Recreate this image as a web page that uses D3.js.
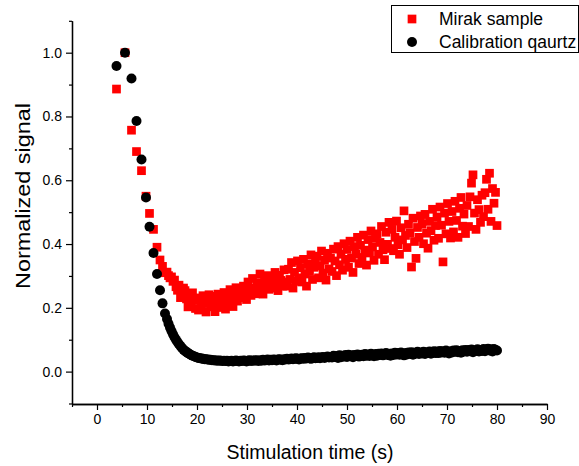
<!DOCTYPE html>
<html><head><meta charset="utf-8">
<script src="https://cdn.jsdelivr.net/npm/d3@7"></script>
<style>
html,body{margin:0;padding:0;background:#fff;}
svg{display:block;font-family:"Liberation Sans",Arial,Helvetica,sans-serif;}
</style></head>
<body><svg id="chart" width="579" height="466"></svg>
<script>
// Stimulation times (s)
const times = [
  3.9, 5.6, 6.9, 7.9, 8.9, 9.8, 10.5, 11.3, 12.0, 12.6, 13.1, 13.6,
  14.0, 14.3, 14.6, 14.9, 15.2, 15.5, 15.8, 16.1, 16.4, 16.7,
  17.0, 17.3, 17.6, 17.9, 18.2, 18.5, 18.8, 19.1, 19.4, 19.7,
  20.0, 20.3, 20.6, 20.9, 21.2, 21.5, 21.8, 22.1, 22.4, 22.7,
  23.0, 23.3, 23.6, 23.9, 24.2, 24.5, 24.8, 25.1, 25.4, 25.7,
  26.0, 26.3, 26.6, 26.9, 27.2, 27.5, 27.8, 28.1, 28.4, 28.7,
  29.0, 29.3, 29.6, 29.9, 30.2, 30.5, 30.8, 31.1, 31.4, 31.7,
  32.0, 32.3, 32.6, 32.9, 33.2, 33.5, 33.8, 34.1, 34.4, 34.7,
  35.0, 35.3, 35.6, 35.9, 36.2, 36.5, 36.8, 37.1, 37.4, 37.7,
  38.0, 38.3, 38.6, 38.9, 39.2, 39.5, 39.8, 40.1, 40.4, 40.7,
  41.0, 41.3, 41.6, 41.9, 42.2, 42.5, 42.8, 43.1, 43.4, 43.7,
  44.0, 44.3, 44.6, 44.9, 45.2, 45.5, 45.8, 46.1, 46.4, 46.7,
  47.0, 47.3, 47.6, 47.9, 48.2, 48.5, 48.8, 49.1, 49.4, 49.7,
  50.0, 50.3, 50.6, 50.9, 51.2, 51.5, 51.8, 52.1, 52.4, 52.7,
  53.0, 53.3, 53.6, 53.9, 54.2, 54.5, 54.8, 55.1, 55.4, 55.7,
  56.0, 56.3, 56.6, 56.9, 57.2, 57.5, 57.8, 58.1, 58.4, 58.7,
  59.0, 59.3, 59.6, 59.9, 60.2, 60.5, 60.8, 61.1, 61.4, 61.7,
  62.0, 62.3, 62.6, 62.9, 63.2, 63.5, 63.8, 64.1, 64.4, 64.7,
  65.0, 65.3, 65.6, 65.9, 66.2, 66.5, 66.8, 67.1, 67.4, 67.7,
  68.0, 68.3, 68.6, 68.9, 69.2, 69.5, 69.8, 70.1, 70.4, 70.7,
  71.0, 71.3, 71.6, 71.9, 72.2, 72.5, 72.8, 73.1, 73.4, 73.7,
  74.0, 74.3, 74.6, 74.9, 75.2, 75.5, 75.8, 76.1, 76.4, 76.7,
  77.0, 77.3, 77.6, 77.9, 78.2, 78.5, 78.8, 79.1, 79.4, 79.7,
  80.0
];
// Mirak sample (normalized)
const mirak = [
  0.886, 1.000, 0.757, 0.690, 0.630, 0.550, 0.496, 0.446, 0.390, 0.350, 0.330, 0.310,
  0.312, 0.301, 0.294, 0.297, 0.283, 0.287, 0.266, 0.255, 0.271, 0.232,
  0.236, 0.262, 0.254, 0.228, 0.203, 0.241, 0.212, 0.247, 0.224, 0.198,
  0.231, 0.193, 0.226, 0.208, 0.238, 0.214, 0.187, 0.222, 0.241, 0.203,
  0.219, 0.236, 0.188, 0.212, 0.243, 0.201, 0.226, 0.209, 0.248, 0.196,
  0.238, 0.213, 0.257, 0.229, 0.204, 0.246, 0.263, 0.221, 0.239, 0.254,
  0.232, 0.268, 0.247, 0.226, 0.281, 0.256, 0.239, 0.292, 0.262, 0.244,
  0.279, 0.251, 0.306, 0.268, 0.243, 0.289, 0.272, 0.301, 0.258, 0.284,
  0.296, 0.262, 0.311, 0.277, 0.254, 0.302, 0.286, 0.268, 0.319, 0.281,
  0.268, 0.321, 0.289, 0.342, 0.262, 0.311, 0.283, 0.347, 0.294, 0.326,
  0.281, 0.352, 0.306, 0.268, 0.338, 0.315, 0.366, 0.289, 0.327, 0.351,
  0.362, 0.294, 0.331, 0.378, 0.309, 0.349, 0.287, 0.371, 0.322, 0.356,
  0.314, 0.384, 0.347, 0.301, 0.392, 0.335, 0.368, 0.318, 0.401, 0.352,
  0.383, 0.327, 0.409, 0.356, 0.311, 0.392, 0.368, 0.421, 0.339, 0.396,
  0.358, 0.428, 0.381, 0.334, 0.414, 0.372, 0.441, 0.391, 0.349, 0.418,
  0.432, 0.368, 0.405, 0.455, 0.382, 0.351, 0.437, 0.399, 0.468, 0.386,
  0.446, 0.379, 0.421, 0.472, 0.398, 0.368, 0.451, 0.413, 0.504, 0.427,
  0.389, 0.462, 0.435, 0.328, 0.481, 0.408, 0.355, 0.452, 0.421, 0.488,
  0.462, 0.401, 0.493, 0.434, 0.387, 0.471, 0.442, 0.509, 0.412, 0.458,
  0.485, 0.418, 0.516, 0.459, 0.344, 0.497, 0.432, 0.527, 0.471, 0.419,
  0.502, 0.438, 0.534, 0.474, 0.421, 0.512, 0.546, 0.456, 0.494, 0.433,
  0.521, 0.455, 0.548, 0.591, 0.617, 0.497, 0.446, 0.539, 0.508, 0.468,
  0.553, 0.486, 0.561, 0.603, 0.509, 0.622, 0.471, 0.574, 0.528, 0.562,
  0.458
];
// Calibration quartz (normalized)
const quartz = [
  0.958, 1.000, 0.919, 0.786, 0.665, 0.546, 0.454, 0.372, 0.306, 0.255, 0.214, 0.182,
  0.165, 0.150, 0.138, 0.127, 0.117, 0.108, 0.100, 0.093, 0.086, 0.080,
  0.074, 0.069, 0.065, 0.061, 0.058, 0.055, 0.052, 0.050, 0.048, 0.046,
  0.044, 0.043, 0.042, 0.041, 0.040, 0.039, 0.039, 0.038, 0.037, 0.037,
  0.036, 0.036, 0.035, 0.035, 0.034, 0.035, 0.034, 0.033, 0.034, 0.033,
  0.034, 0.032, 0.033, 0.034, 0.032, 0.033, 0.035, 0.033, 0.032, 0.034,
  0.033, 0.035, 0.034, 0.032, 0.034, 0.036, 0.033, 0.035, 0.034, 0.036,
  0.035, 0.033, 0.036, 0.034, 0.037, 0.035, 0.036, 0.038, 0.035, 0.037,
  0.036, 0.038, 0.037, 0.035, 0.038, 0.039, 0.037, 0.036, 0.039, 0.038,
  0.040, 0.038, 0.039, 0.041, 0.039, 0.040, 0.042, 0.040, 0.038, 0.041,
  0.042, 0.040, 0.043, 0.041, 0.044, 0.042, 0.040, 0.043, 0.045, 0.042,
  0.043, 0.045, 0.042, 0.044, 0.046, 0.043, 0.045, 0.047, 0.044, 0.046,
  0.044, 0.050, 0.046, 0.049, 0.043, 0.051, 0.045, 0.050, 0.047, 0.052,
  0.046, 0.053, 0.048, 0.051, 0.045, 0.052, 0.049, 0.054, 0.047, 0.051,
  0.053, 0.048, 0.055, 0.050, 0.054, 0.049, 0.056, 0.051, 0.048, 0.055,
  0.050, 0.056, 0.052, 0.057, 0.051, 0.055, 0.058, 0.052, 0.056, 0.050,
  0.057, 0.052, 0.059, 0.054, 0.058, 0.053, 0.060, 0.055, 0.051, 0.058,
  0.054, 0.060, 0.056, 0.061, 0.053, 0.059, 0.057, 0.062, 0.055, 0.060,
  0.057, 0.062, 0.055, 0.061, 0.058, 0.063, 0.056, 0.061, 0.064, 0.058,
  0.063, 0.058, 0.065, 0.060, 0.064, 0.059, 0.066, 0.061, 0.057, 0.064,
  0.060, 0.066, 0.062, 0.067, 0.061, 0.065, 0.059, 0.067, 0.063, 0.068,
  0.062, 0.068, 0.064, 0.069, 0.061, 0.067, 0.065, 0.070, 0.063, 0.068,
  0.065, 0.071, 0.064, 0.069, 0.072, 0.066, 0.070, 0.063, 0.071, 0.068,
  0.066
];
const seriesNames = ["Mirak sample", "Calibration qaurtz"];
const seriesColors = ["#ff0000", "#000000"];
const xMajorTicks = [0, 10, 20, 30, 40, 50, 60, 70, 80, 90];
const xMinorTicks = [-5, 5, 15, 25, 35, 45, 55, 65, 75, 85];
const yMajorTicks = [0.0, 0.2, 0.4, 0.6, 0.8, 1.0];
const yMinorTicks = [-0.1, 0.1, 0.3, 0.5, 0.7, 0.9, 1.1];
const xTitle = "Stimulation time (s)";
const yTitle = "Normalized signal";

const svg = d3.select("#chart");
const x = d3.scaleLinear().domain([-5, 90]).range([72, 547]);
const y = d3.scaleLinear().domain([-0.1, 1.1]).range([403.5, 20.8]);

const mirakData = mirak.map((v, i) => ({t: times[i], v}));
const quartzData = quartz.map((v, i) => ({t: times[i], v}));

const sq = 8.7, rad = 5;
// red squares first
svg.append("g").selectAll("rect").data(mirakData).join("rect")
  .attr("x", d => x(d.t) - sq/2).attr("y", d => y(d.v) - sq/2)
  .attr("width", sq).attr("height", sq).attr("fill", seriesColors[0]);
// black circles on top
svg.append("g").selectAll("circle").data(quartzData).join("circle")
  .attr("cx", d => x(d.t)).attr("cy", d => y(d.v)).attr("r", rad)
  .attr("fill", seriesColors[1]);

// axes
const fmt = d3.format(".1f");
svg.append("g").attr("transform", "translate(0,404)")
  .call(d3.axisBottom(x).tickValues(xMajorTicks).tickSize(6).tickPadding(4).tickSizeOuter(0));
svg.append("g").attr("transform", "translate(0,404)")
  .call(d3.axisBottom(x).tickValues(xMinorTicks).tickSize(3).tickFormat("").tickSizeOuter(0));
svg.append("g").attr("transform", "translate(72,0)")
  .call(d3.axisLeft(y).tickValues(yMajorTicks).tickFormat(fmt).tickSize(6).tickPadding(4).tickSizeOuter(0));
svg.append("g").attr("transform", "translate(72,0)")
  .call(d3.axisLeft(y).tickValues(yMinorTicks).tickSize(3).tickFormat("").tickSizeOuter(0));
svg.selectAll(".domain").attr("stroke", "#000").attr("stroke-width", 1.3);
svg.selectAll(".tick line").attr("stroke", "#000").attr("stroke-width", 1.2);
svg.selectAll(".tick text").attr("font-size", 14).attr("fill", "#000")
  .attr("font-family", "'Liberation Sans', Arial, sans-serif");

svg.append("text").attr("x", 310).attr("y", 459).attr("text-anchor", "middle")
  .attr("font-size", 19.5).text(xTitle);
svg.append("text").attr("transform", "translate(30,196) rotate(-90)").attr("text-anchor", "middle")
  .attr("font-size", 20).attr("textLength", 186).attr("lengthAdjust", "spacingAndGlyphs")
  .text(yTitle);

// legend
const lg = svg.append("g");
lg.append("rect").attr("x", 391.5).attr("y", 5.5).attr("width", 187).attr("height", 47)
  .attr("fill", "#fff").attr("stroke", "#000").attr("stroke-width", 1);
lg.append("rect").attr("x", 412 - sq/2).attr("y", 19 - sq/2).attr("width", sq).attr("height", sq).attr("fill", seriesColors[0]);
lg.append("circle").attr("cx", 412).attr("cy", 42).attr("r", rad).attr("fill", seriesColors[1]);
lg.append("text").attr("x", 439).attr("y", 25).attr("font-size", 17.5).text(seriesNames[0]);
lg.append("text").attr("x", 439).attr("y", 48).attr("font-size", 17.5).text(seriesNames[1]);
</script></body></html>
